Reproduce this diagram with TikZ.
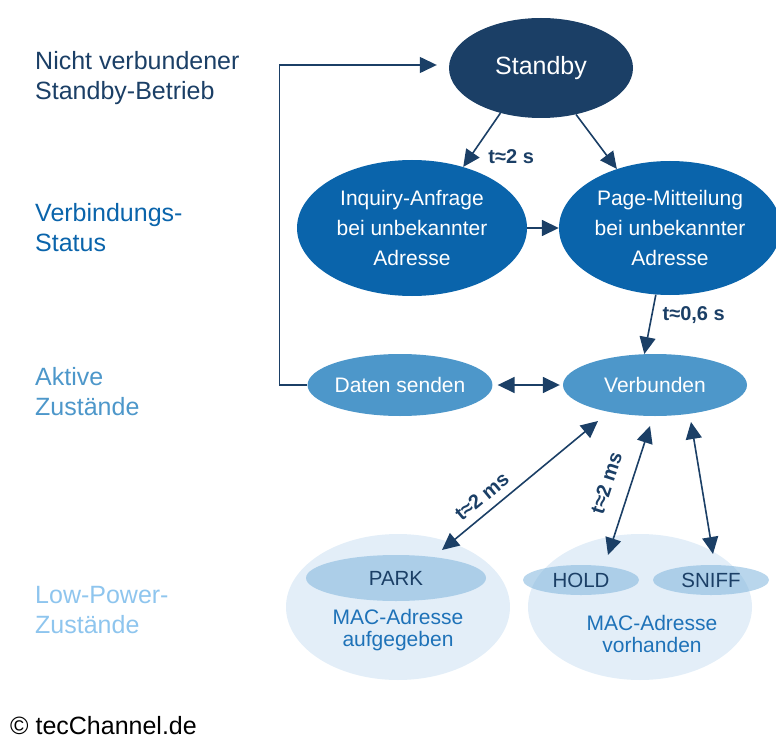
\documentclass[tikz,border=0pt]{standalone}
\usepackage{fontspec}
\setmainfont{Liberation Sans}
\usetikzlibrary{shapes.geometric,arrows.meta}
\definecolor{navy}{HTML}{1B3F66}
\definecolor{midblue}{HTML}{0A64AB}
\definecolor{softblue}{HTML}{4D97CA}
\definecolor{paleblue}{HTML}{7FB5DC}
\definecolor{haze}{HTML}{E3EEF8}
\definecolor{macblue}{HTML}{1E72B8}
\definecolor{lowblue}{HTML}{8EC5EE}
\begin{document}
\begin{tikzpicture}[x=1pt,y=-1pt,
  state/.style={ellipse, inner sep=0pt, align=center, text=white,
    font=\fontsize{21}{30}\selectfont},
  zone/.style={ellipse, inner sep=0pt, fill=haze},
  mode/.style={ellipse, inner sep=0pt, fill=paleblue, fill opacity=0.55,
    text opacity=1, text=navy, font=\fontsize{20.5}{24}\selectfont},
  level/.style={anchor=north west, inner sep=0pt, align=left,
    font=\fontsize{25}{30.5}\selectfont},
  arr/.style={draw=navy, line width=1.6pt, -{Triangle[length=17pt,width=16pt]}},
  dbl/.style={draw=navy, line width=1.6pt,
    {Triangle[length=17pt,width=16pt]}-{Triangle[length=17pt,width=16pt]}},
  tlabel/.style={inner sep=0pt, text=navy, font=\bfseries\fontsize{20}{22}\selectfont},
  mac/.style={align=center, inner sep=0pt, text=macblue,
    font=\fontsize{21}{21.5}\selectfont}]
\useasboundingbox (0,0) rectangle (776,738);

% level captions on the left
\node[level, text=navy] (l1) at (35,51) {Nicht verbundener\\Standby-Betrieb};
\node[level, text=midblue] (l2) at (35,203) {Verbindungs-\\Status};
\node[level, text=softblue] (l3) at (35,367) {Aktive\\Zustände};
\node[level, text=lowblue] (l4) at (35,586) {Low-Power-\\Zustände};
\node[anchor=base west, inner sep=0pt, text=black,
  font=\fontsize{25}{30}\selectfont] (copy) at (10,734) {© tecChannel.de};

% low-power zones
\node[zone, minimum width=224, minimum height=146] (parkzone) at (398,607) {};
\node[zone, minimum width=224, minimum height=146] (holdzone) at (640,607) {};
\node[mode, minimum width=180, minimum height=46] (park) at (396,578) {PARK};
\node[mode, minimum width=116, minimum height=30] (hold) at (581,580) {HOLD};
\node[mode, minimum width=116, minimum height=30] (sniff) at (711,580) {SNIFF};
\node[mac] (macpark) at (398,630) {MAC-Adresse\\aufgegeben};
\node[mac] (machold) at (652,634) {MAC-Adresse\\vorhanden};

% states
\node[state, fill=navy, minimum width=184, minimum height=100,
  font=\fontsize{25}{30}\selectfont] (stb) at (541,68) {Standby};
\node[state, fill=midblue, minimum width=230, minimum height=136] (inq) at (412,228)
  {Inquiry-Anfrage\\bei unbekannter\\Adresse};
\node[state, fill=midblue, minimum width=222, minimum height=134] (page) at (670,228)
  {Page-Mitteilung\\bei unbekannter\\Adresse};
\node[state, fill=softblue, minimum width=184, minimum height=62] (dat) at (400,385)
  {Daten senden};
\node[state, fill=softblue, minimum width=184, minimum height=62] (verb) at (655,385)
  {Verbunden};

% transitions
\draw[arr] (stb.228) -- (inq.50)
  node[tlabel, pos=0.8, anchor=west, xshift=17pt] (t1) {t≈2 s};
\draw[arr] (stb.307) -- (page.132);
\draw[arr] (inq.east) -- (page.west);
\draw[arr] (page.258) -- (verb.109)
  node[tlabel, pos=0.35, anchor=west, xshift=10pt] (t2) {t≈0,6 s};
\draw[dbl, shorten <=5pt, shorten >=3pt] (dat.east) -- (verb.west);
\draw[arr, line width=1.4pt, shorten >=12pt] (dat.west) -- ++(-28,0)
  |- ([yshift=3pt]stb.west);
\draw[dbl] ([shift={(46,-28)}]park.center) -- ([shift={(-57,36)}]verb.center)
  node[tlabel, pos=0.32, sloped, above=8pt] (t3) {t≈2 ms};
\draw[dbl] ([shift={(27,-25)}]hold.center) -- ([shift={(-5,41)}]verb.center)
  node[tlabel, pos=0.5, sloped, above=16pt] (t4) {t≈2 ms};
\draw[dbl] ([shift={(2,-26)}]sniff.center) -- ([shift={(36,37)}]verb.center);
\end{tikzpicture}
\end{document}
